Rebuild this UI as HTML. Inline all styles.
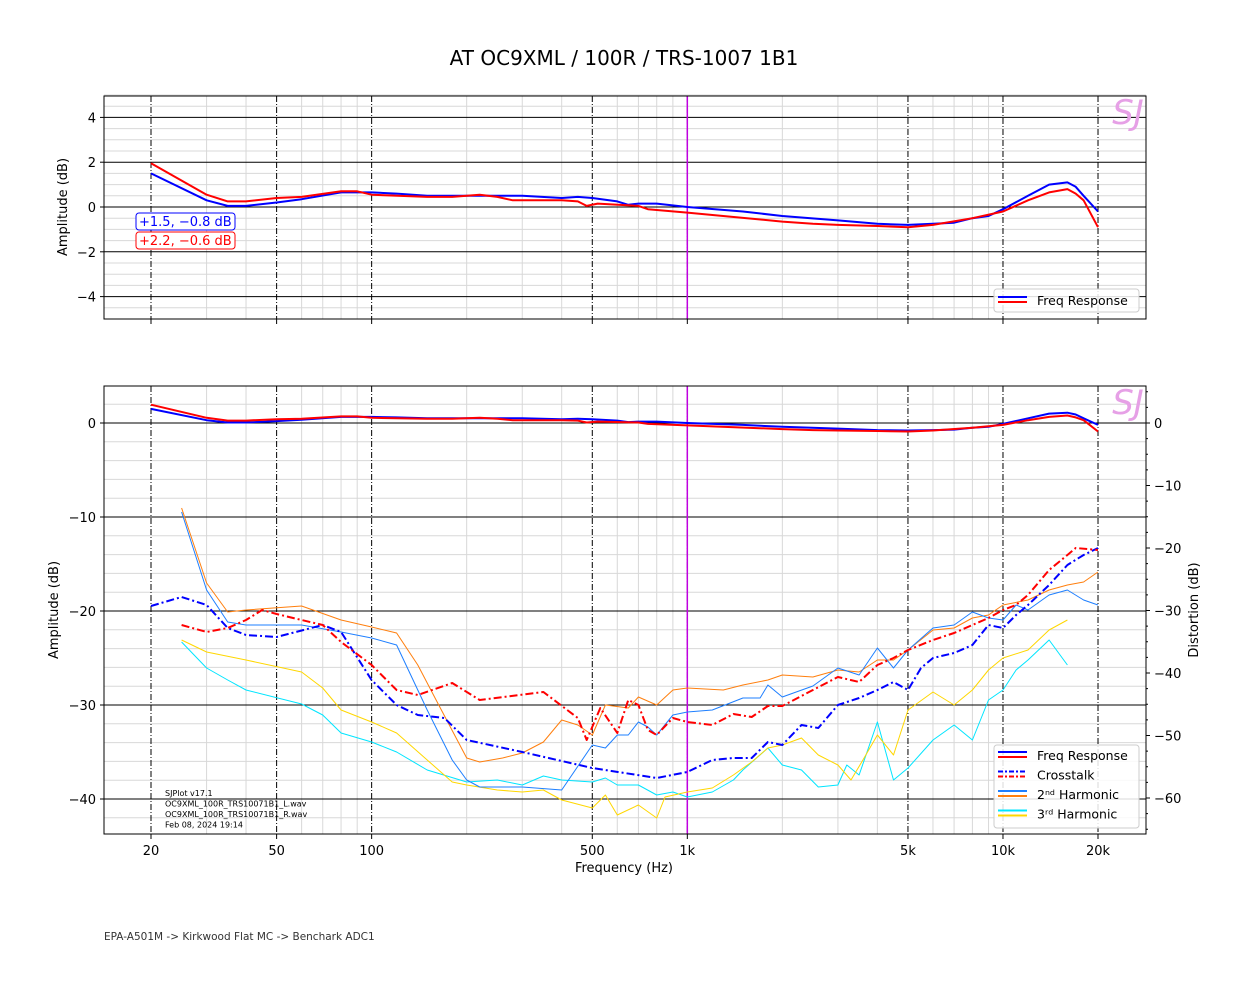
<!DOCTYPE html>
<html><head><meta charset="utf-8"><style>
body{margin:0;background:#fff;font-family:"DejaVu Sans","Liberation Sans",sans-serif;}
svg text{font-family:"DejaVu Sans","Liberation Sans",sans-serif;}
</style></head><body>
<svg id="s" width="1249" height="990" xmlns="http://www.w3.org/2000/svg">
<rect width="1249" height="990" fill="#fff"/>
<text x="624" y="65" font-size="20" text-anchor="middle">AT OC9XML / 100R / TRS-1007 1B1</text>
<g id="g"></g>
</svg>
<script>
const NS="http://www.w3.org/2000/svg",G=document.getElementById('g');
function el(t,a,txt){const e=document.createElementNS(NS,t);for(const k in a)e.setAttribute(k,a[k]);if(txt!=null)e.textContent=txt;G.appendChild(e);return e;}
const X=f=>151+315.67*Math.log10(f/20);
const L=104,R=1146;
const majF=[20,50,100,500,1000,5000,10000,20000];
const minF=[];for(const d of [10,100,1000,10000])for(let i=1;i<10;i++){const f=d*i;if(f>=15&&f<=26000&&!majF.includes(f))minF.push(f);}
function panel(T,B,yOf,minorYs,majorYs){
  for(const y of minorYs)el('line',{x1:L,x2:R,y1:y,y2:y,stroke:'#d8d8d8','stroke-width':1});
  for(const f of minF){const x=X(f);if(x>L&&x<R)el('line',{x1:x,x2:x,y1:T,y2:B,stroke:'#d8d8d8','stroke-width':1});}
  for(const y of majorYs)el('line',{x1:L,x2:R,y1:y,y2:y,stroke:'#000','stroke-width':1});
  for(const f of majF){const x=X(f);el('line',{x1:x,x2:x,y1:T,y2:B,stroke:'#000','stroke-width':1,'stroke-dasharray':'6,2,1,2'});}
  el('line',{x1:X(1000),x2:X(1000),y1:T,y2:B,stroke:'#c000e0','stroke-width':1.5});
  el('rect',{x:L,y:T,width:R-L,height:B-T,fill:'none',stroke:'#000','stroke-width':1});
  el('text',{x:1128,y:T+28,'font-size':34,fill:'#e6a0e6','font-style':'italic','text-anchor':'middle'},'SJ');
}
const yT=d=>207-22.4*d;
let mi=[],ma=[];for(let d=-5;d<=5;d+=0.5){if(d%2===0)ma.push(yT(d));else mi.push(yT(d));}
panel(96,319,yT,mi,ma);
for(const d of [4,2,0,-2,-4]){el('line',{x1:L-4,x2:L,y1:yT(d),y2:yT(d),stroke:'#000'});el('text',{x:L-8,y:yT(d)+5,'font-size':13,'text-anchor':'end'},(d<0?'−':'')+Math.abs(d));}
for(const f of majF){el('line',{x1:X(f),x2:X(f),y1:319,y2:324,stroke:'#000'});}
el('text',{x:67,y:207,'font-size':13,'text-anchor':'middle',transform:'rotate(-90 67 207)'},'Amplitude (dB)');
const yB=d=>423-9.4*d;
mi=[];ma=[];for(let d=2;d>=-42;d-=2){if(d%10===0)ma.push(yB(d));else mi.push(yB(d));}
panel(386,834,yB,mi,ma);
for(const d of [0,-10,-20,-30,-40]){el('line',{x1:L-4,x2:L,y1:yB(d),y2:yB(d),stroke:'#000'});el('text',{x:L-8,y:yB(d)+5,'font-size':13,'text-anchor':'end'},(d<0?'−':'')+Math.abs(d));}
for(let r=0;r>=-60;r-=10){const y=423+6.25*(-r);el('line',{x1:R,x2:R+4,y1:y,y2:y,stroke:'#000'});el('text',{x:R+8,y:y+5,'font-size':13},(r<0?'−':'')+Math.abs(r));}
for(let r=5;r>=-65;r-=2.5){if(r%10===0)continue;const y=423+6.25*(-r);if(y>386&&y<834)el('line',{x1:R,x2:R+2,y1:y,y2:y,stroke:'#000'});}
const lab={20:'20',50:'50',100:'100',500:'500',1000:'1k',5000:'5k',10000:'10k',20000:'20k'};
for(const f of majF){el('line',{x1:X(f),x2:X(f),y1:834,y2:839,stroke:'#000'});el('text',{x:X(f),y:855,'font-size':13,'text-anchor':'middle'},lab[f]);}
el('text',{x:624,y:872,'font-size':13,'text-anchor':'middle'},'Frequency (Hz)');
el('text',{x:58,y:610,'font-size':13,'text-anchor':'middle',transform:'rotate(-90 58 610)'},'Amplitude (dB)');
el('text',{x:1198,y:610,'font-size':13,'text-anchor':'middle',transform:'rotate(-90 1198 610)'},'Distortion (dB)');
function P(d,yf,c,w,dash){const pts=[];for(let i=0;i<d.length;i+=2)pts.push(X(d[i]).toFixed(1)+','+yf(d[i+1]).toFixed(1));const a={points:pts.join(' '),fill:'none',stroke:c,'stroke-width':w,'stroke-linejoin':'round'};if(dash)a['stroke-dasharray']=dash;el('polyline',a);}
const fb=[20,1.5,30,0.3,35,0.05,40,0.05,50,0.2,60,0.35,80,0.65,100,0.65,120,0.6,150,0.5,200,0.5,250,0.5,300,0.5,400,0.4,450,0.45,500,0.4,600,0.25,650,0.1,700,0.15,800,0.15,1000,0,1500,-0.2,2000,-0.4,3000,-0.6,4000,-0.75,5000,-0.8,6000,-0.75,7000,-0.7,8000,-0.5,9000,-0.4,10000,-0.1,12000,0.5,14000,1.0,16000,1.1,17000,0.9,18000,0.5,20000,-0.2];
const fr=[20,1.95,30,0.55,35,0.25,40,0.25,50,0.4,60,0.45,80,0.7,90,0.7,100,0.55,150,0.45,180,0.45,220,0.55,250,0.45,280,0.3,350,0.3,400,0.3,450,0.25,480,0.05,520,0.15,700,0.05,750,-0.1,1000,-0.25,2000,-0.65,2500,-0.75,3000,-0.8,4000,-0.85,5000,-0.9,6000,-0.8,8000,-0.5,10000,-0.2,12000,0.3,14000,0.65,16000,0.8,17000,0.6,18000,0.3,20000,-0.9];
P(fb,yT,'#0000ff',2);P(fr,yT,'#ff0000',2);
const id=v=>v;
P([25,642,30,668,35,680,40,690,60,704,70,715,80,733,100,742,120,752,150,770,200,782,250,780,300,785,350,776,400,780,500,782,550,778,600,785,700,785,800,795,900,792,1000,797,1200,792,1400,780,1500,770,1800,748,2000,765,2300,770,2600,787,3000,785,3200,765,3500,775,4000,722,4500,780,5000,768,6000,740,7000,725,8000,740,9000,700,10000,690,11000,670,12000,660,14000,640,16000,665],id,'#00e5ff',1);
P([25,640,30,652,40,660,60,672,70,688,80,710,100,722,120,733,150,760,180,782,200,785,250,790,300,792,350,790,400,800,500,808,550,795,600,815,700,805,800,818,850,797,1000,792,1200,788,1400,775,1600,762,1800,748,2000,745,2300,738,2600,755,3000,765,3300,780,3600,760,4000,735,4500,755,5000,710,6000,692,7000,705,8000,690,9000,670,10000,658,12000,650,14000,630,16000,620],id,'#ffd700',1);
P([25,508,30,583,35,612,40,610,60,606,80,620,100,627,120,633,140,665,160,700,200,758,220,762,260,758,300,753,350,742,400,720,450,725,500,735,550,705,650,708,700,697,800,705,900,690,1000,688,1300,690,1500,685,1800,680,2000,675,2500,677,3000,670,3500,672,4000,660,4500,660,5000,650,6000,630,7000,628,8000,618,9000,615,10000,605,12000,600,14000,590,16000,585,18000,582,20000,572],id,'#ff7f0e',1);
P([25,512,30,590,35,622,40,625,60,625,80,632,100,638,120,645,150,710,180,760,200,780,220,787,300,787,400,790,500,745,550,748,600,735,650,735,700,722,750,727,800,735,900,715,1000,712,1200,710,1500,698,1700,698,1800,685,2000,697,2500,686,3000,668,3500,675,4000,648,4500,668,5000,650,6000,628,7000,625,8000,612,9000,618,10000,620,11000,605,12000,610,14000,595,16000,590,18000,600,20000,605],id,'#1e7fff',1);
P([20,606,25,597,30,605,35,628,40,635,50,637,70,625,80,632,100,680,120,705,140,715,170,718,200,740,300,752,500,768,800,778,1000,772,1200,760,1400,758,1600,758,1800,742,2000,745,2300,725,2600,728,3000,705,3500,698,4000,690,4500,682,5000,690,5500,668,6000,658,7000,653,8000,645,9000,625,10000,628,11000,615,12000,605,14000,585,16000,565,18000,555,20000,548],id,'#0000ff',2,'8,3,2,3');
P([25,625,30,632,35,628,40,620,45,610,50,614,60,620,70,625,80,642,100,665,120,690,140,695,180,683,220,700,350,692,450,718,480,740,530,708,600,733,650,700,700,705,750,730,800,735,900,718,1000,722,1200,725,1400,714,1600,717,1800,706,2000,706,2500,690,3000,677,3500,682,4000,665,4500,658,5000,650,6000,640,7000,633,8000,625,9000,618,10000,610,11000,605,12000,595,14000,570,16000,555,17000,548,20000,550],id,'#ff0000',2,'8,3,2,3');
P(fb,yB,'#0000ff',2);P(fr,yB,'#ff0000',2);
el('rect',{x:136,y:213,width:99,height:17,rx:3,fill:'#fff',stroke:'#0000ff'});
el('text',{x:139,y:226,'font-size':13,fill:'#0000ff'},'+1.5, −0.8 dB');
el('rect',{x:136,y:232,width:99,height:17,rx:3,fill:'#fff',stroke:'#ff0000'});
el('text',{x:139,y:245,'font-size':13,fill:'#ff0000'},'+2.2, −0.6 dB');
el('rect',{x:994,y:289,width:145,height:23,rx:3,fill:'#fff','fill-opacity':0.85,stroke:'#ccc'});
el('line',{x1:998,x2:1027,y1:297,y2:297,stroke:'#00f','stroke-width':2});el('line',{x1:998,x2:1027,y1:302,y2:302,stroke:'#f00','stroke-width':2});
el('text',{x:1037,y:305,'font-size':12.5},'Freq Response');
el('rect',{x:994,y:745,width:145,height:83,rx:3,fill:'#fff','fill-opacity':0.85,stroke:'#ccc'});
const lg=[['#00f','#f00','Freq Response',null],['#00f','#f00','Crosstalk','5,2,2,2'],['#1e7fff','#ff7f0e','2ⁿᵈ Harmonic',null],['#00e5ff','#ffd700','3ʳᵈ Harmonic',null]];
lg.forEach((l,i)=>{const y=752+i*19.5;const a={x1:998,x2:1027,stroke:l[0],'stroke-width':2};if(l[3])a['stroke-dasharray']=l[3];el('line',Object.assign({},a,{y1:y,y2:y}));el('line',Object.assign({},a,{y1:y+5,y2:y+5,stroke:l[1]}));el('text',{x:1037,y:y+8,'font-size':12.5},l[2]);});
['SJPlot v17.1','OC9XML_100R_TRS10071B1_L.wav','OC9XML_100R_TRS10071B1_R.wav','Feb 08, 2024 19:14'].forEach((t,i)=>el('text',{x:165,y:796+i*10.5,'font-size':8},t));
el('text',{x:104,y:940,'font-size':10.5,fill:'#333'},'EPA-A501M -> Kirkwood Flat MC -> Benchark ADC1');
</script>
</body></html>
